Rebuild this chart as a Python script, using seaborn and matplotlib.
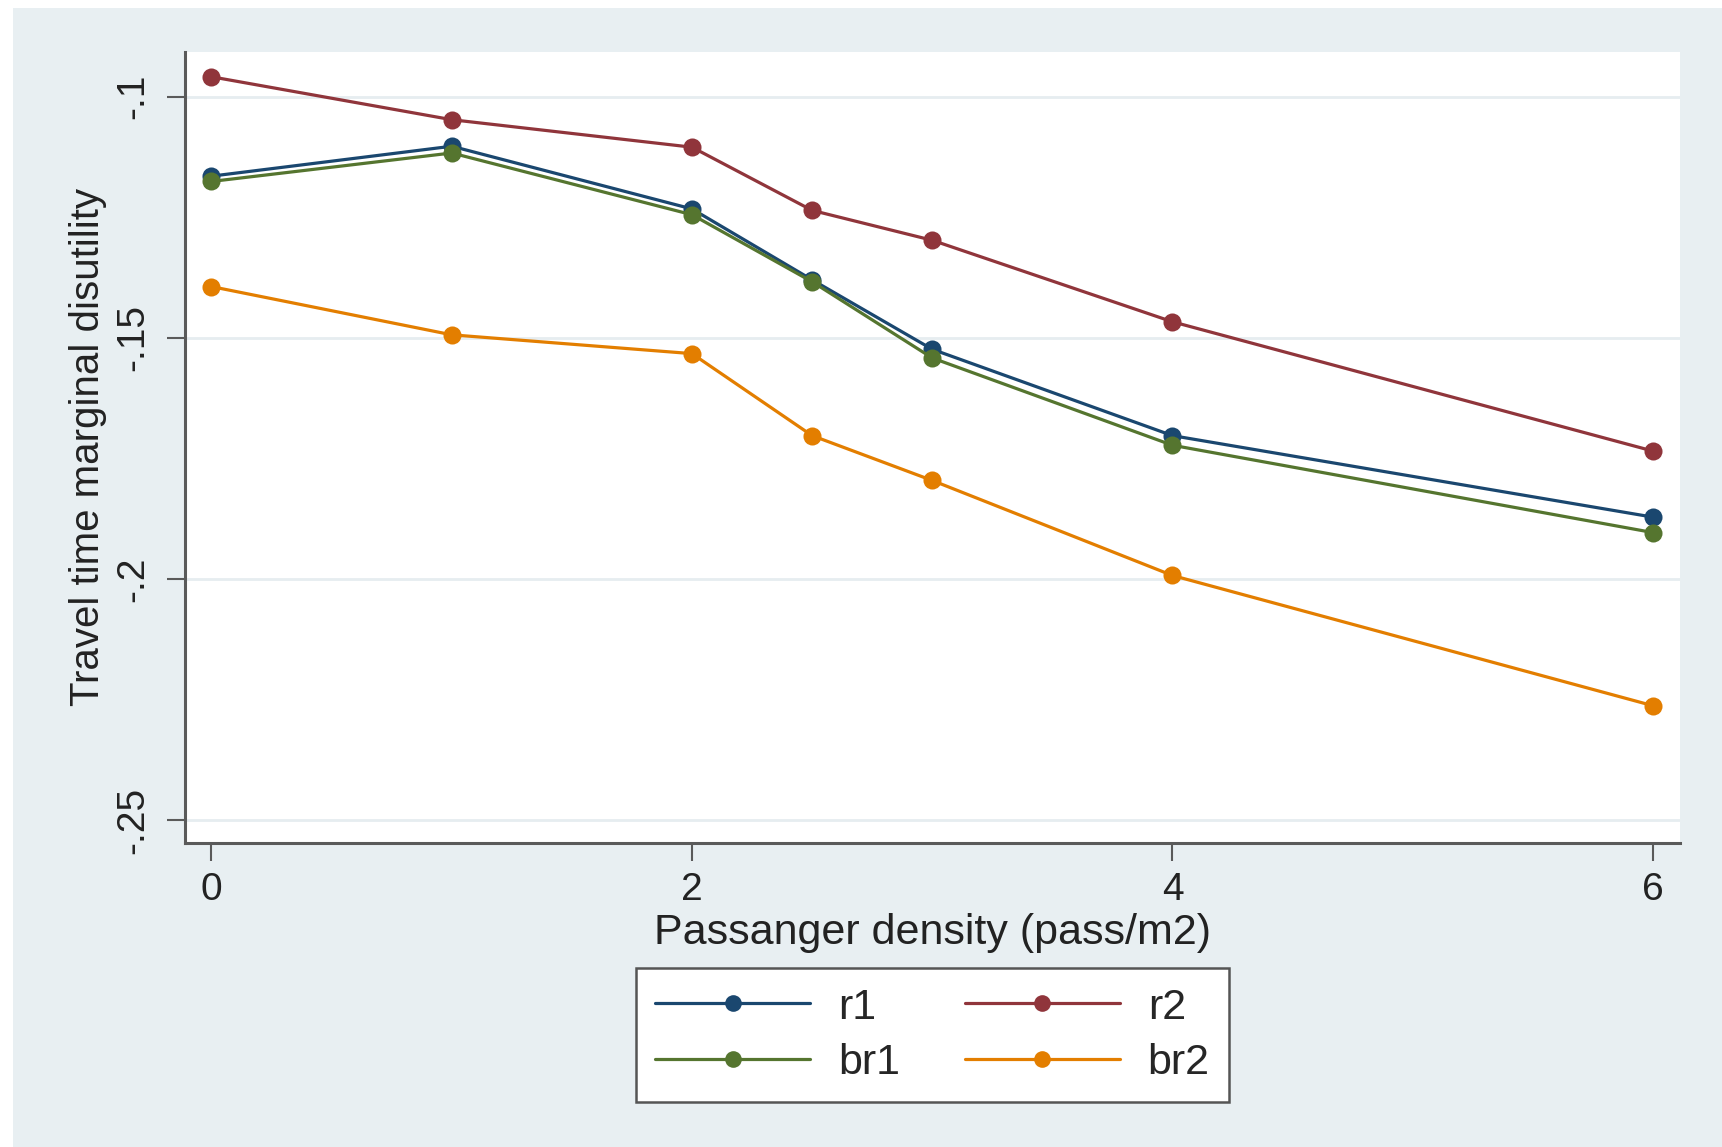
import numpy as np
import pandas as pd
import seaborn as sns
import matplotlib.pyplot as plt
from matplotlib.patches import Rectangle
from matplotlib.lines import Line2D

# Passenger density levels (pass/m2)
density = [0, 1, 2, 2.5, 3, 4, 6]

# Travel time marginal disutility per model
r1 = [-0.1165, -0.1103, -0.1233, -0.1380, -0.1524, -0.1703, -0.1872]
r2 = [-0.0959, -0.1048, -0.1105, -0.1236, -0.1298, -0.1467, -0.1735]
br1 = [-0.1176, -0.1117, -0.1245, -0.1384, -0.1542, -0.1723, -0.1904]
br2 = [-0.1394, -0.1494, -0.1533, -0.1703, -0.1796, -0.1993, -0.2263]

series_names = ["r1", "r2", "br1", "br2"]
series_values = [r1, r2, br1, br2]
colors = {"r1": "#1a476f", "r2": "#90353b", "br1": "#55752f", "br2": "#e37e00"}

y_ticks = [-0.1, -0.15, -0.2, -0.25]
y_tick_labels = ["-.1", "-.15", "-.2", "-.25"]
x_ticks = [0, 2, 4, 6]

df = pd.concat(
    [pd.DataFrame({"density": density, "value": v, "series": n})
     for n, v in zip(series_names, series_values)],
    ignore_index=True,
)

sns.set_theme(style="white")
plt.rcParams["font.family"] = ["Liberation Sans", "DejaVu Sans"]

fig = plt.figure(figsize=(17.22, 11.47), dpi=100, facecolor="white")
# graph region background
bg = Rectangle((13 / 1722, 0), 1 - 13 / 1722, 1 - 8 / 1147,
               transform=fig.transFigure, facecolor="#e8eff2",
               edgecolor="none", zorder=-10)
fig.patches.append(bg)

ax = fig.add_axes([185 / 1722, 1 - 842.7 / 1147, (1680 - 185) / 1722, (842.7 - 51.7) / 1147])
ax.set_zorder(1)
ax.set_facecolor("white")

sns.lineplot(data=df, x="density", y="value", hue="series", hue_order=series_names,
             palette=colors, marker="o", markersize=13, markeredgewidth=0,
             linewidth=2.3, legend=False, ax=ax)

ax.set_xlim(-0.1103, 6.1124)
ax.set_ylim(-0.2547, -0.0907)
ax.set_xticks(x_ticks)
ax.set_xticklabels([str(t) for t in x_ticks])
ax.set_yticks(y_ticks)
ax.set_yticklabels(y_tick_labels, rotation=90, va="center")

for y in y_ticks:
    ax.axhline(y, color="#e6edf0", linewidth=2, zorder=0)

for side in ["top", "right"]:
    ax.spines[side].set_visible(False)
for side in ["left", "bottom"]:
    ax.spines[side].set_color("#5a5a5a")
    ax.spines[side].set_linewidth(2.2)

ax.tick_params(axis="both", which="major", direction="out", length=13, width=1.5,
               color="#5a5a5a", labelsize=28, labelcolor="#222222",
               left=True, bottom=True)
ax.tick_params(axis="y", pad=11)
ax.tick_params(axis="x", pad=8)

ax.set_xlabel("Passanger density (pass/m2)", fontsize=31, color="#222222", labelpad=4)
ax.set_ylabel("Travel time marginal disutility", fontsize=29, color="#222222", labelpad=6)

handles = [Line2D([0], [0], color=colors[n], marker="o", markersize=12,
                  markeredgewidth=0, linewidth=2.3) for n in ["r1", "br1", "r2", "br2"]]
leg = ax.legend(handles, ["r1", "br1", "r2", "br2"], ncol=2, loc="center",
                bbox_to_anchor=(0.5415, 0.0976), bbox_transform=fig.transFigure,
                fontsize=31, frameon=True, fancybox=False, framealpha=1,
                handlelength=3.6, columnspacing=1.5, handletextpad=0.65,
                labelspacing=0.35, borderpad=0.45)
leg.get_frame().set_edgecolor("#555555")
leg.get_frame().set_linewidth(1.8)
leg.get_frame().set_facecolor("white")

fig.savefig("out.png", dpi=100, facecolor=fig.get_facecolor())
